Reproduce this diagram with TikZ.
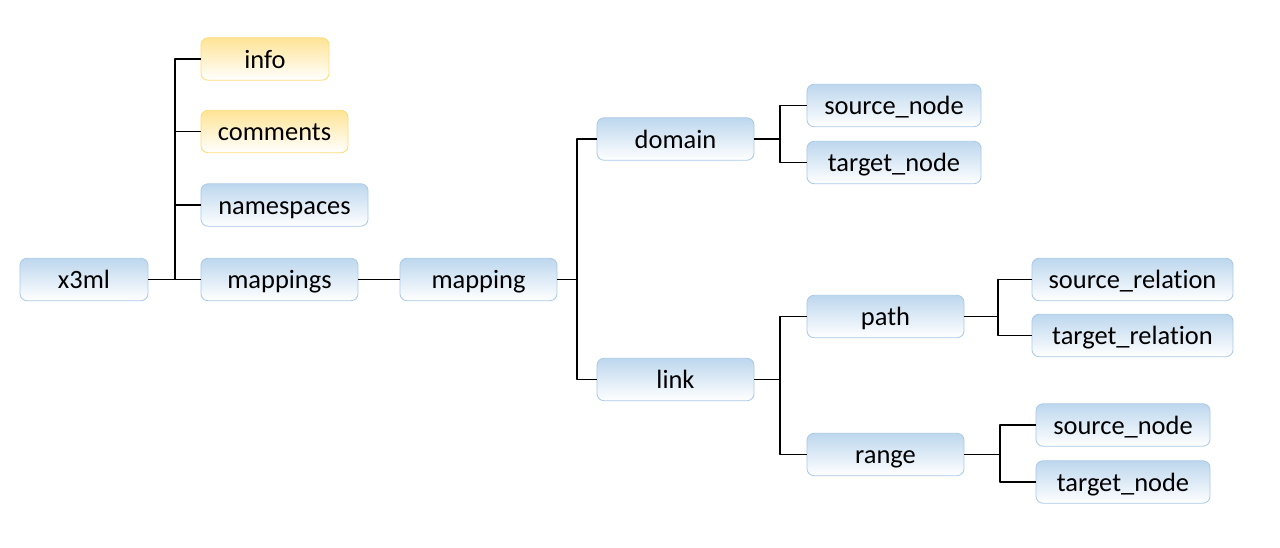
\documentclass[tikz,border=0pt]{standalone}
\usepackage{fontspec}
\setmainfont[Ligatures=NoCommon]{Carlito}
\definecolor{boxblue}{RGB}{189,215,238}
\definecolor{lineblue}{RGB}{170,202,232}
\definecolor{boxgold}{RGB}{255,228,150}
\definecolor{linegold}{RGB}{255,220,120}
\begin{document}
\begin{tikzpicture}[x=0.025cm,y=-0.025cm,font=\fontsize{18.8}{22}\selectfont,line join=round,
	elem/.style={draw=lineblue,line width=0.6pt,rounded corners=5pt,top color=boxblue,bottom color=white,
		minimum height=1.06cm,inner sep=0pt,text height=17.7pt,text depth=4.9pt},
	note/.style={elem,draw=linegold,top color=boxgold},
	wire/.style={black,line width=0.75pt}]
	\useasboundingbox (0,0) rectangle (1280,547);
	
	\node[elem,minimum width=3.2cm] (x3ml) at (84,279.5) {x3ml};
	\node[note,minimum width=3.2cm] (info) at (265,59) {info};
	\node[note,minimum width=3.675cm] (comments) at (274.5,131.5) {comments};
	\node[elem,minimum width=4.175cm] (namespaces) at (284.5,205) {namespaces};
	\node[elem,minimum width=3.925cm] (mappings) at (279.5,279.5) {mappings};
	\node[elem,minimum width=3.925cm] (mapping) at (478.5,279.5) {mapping};
	\node[elem,minimum width=3.925cm] (domain) at (675.5,139) {domain};
	\node[elem,minimum width=3.925cm] (link) at (675.5,379.5) {link};
	\node[elem,minimum width=4.35cm] (dsrc) at (894,105.5) {source\_node};
	\node[elem,minimum width=4.35cm] (dtgt) at (894,162.5) {target\_node};
	\node[elem,minimum width=3.925cm] (path) at (885.5,316.5) {path};
	\node[elem,minimum width=3.925cm] (range) at (885.5,454.5) {range};
	\node[elem,minimum width=5.025cm] (psrc) at (1132.5,279.5) {source\_relation};
	\node[elem,minimum width=5.025cm] (ptgt) at (1132.5,335.5) {target\_relation};
	\node[elem,minimum width=4.35cm] (rsrc) at (1123,425) {source\_node};
	\node[elem,minimum width=4.35cm] (rtgt) at (1123,482) {target\_node};
	
	% bus points
	\coordinate (b0) at (175,279.5);
	\coordinate (b1) at (577,279.5);
	\coordinate (b2) at (780,139);
	\coordinate (b3) at (780,379.5);
	\coordinate (b4) at (998,316.5);
	\coordinate (b5) at (1000,454.5);
	
	\draw[wire] (x3ml.east) -- (b0);
	\foreach \c in {info,comments,namespaces,mappings}
	\draw[wire] (b0) |- (\c.west);
	\draw[wire] (mappings.east) -- (mapping.west);
	\draw[wire] (mapping.east) -- (b1);
	\foreach \c in {domain,link}
	\draw[wire] (b1) |- (\c.west);
	\draw[wire] (domain.east) -- (b2);
	\foreach \c in {dsrc,dtgt}
	\draw[wire] (b2) |- (\c.west);
	\draw[wire] (link.east) -- (b3);
	\foreach \c in {path,range}
	\draw[wire] (b3) |- (\c.west);
	\draw[wire] (path.east) -- (b4);
	\foreach \c in {psrc,ptgt}
	\draw[wire] (b4) |- (\c.west);
	\draw[wire] (range.east) -- (b5);
	\foreach \c in {rsrc,rtgt}
	\draw[wire] (b5) |- (\c.west);
\end{tikzpicture}
\end{document}
